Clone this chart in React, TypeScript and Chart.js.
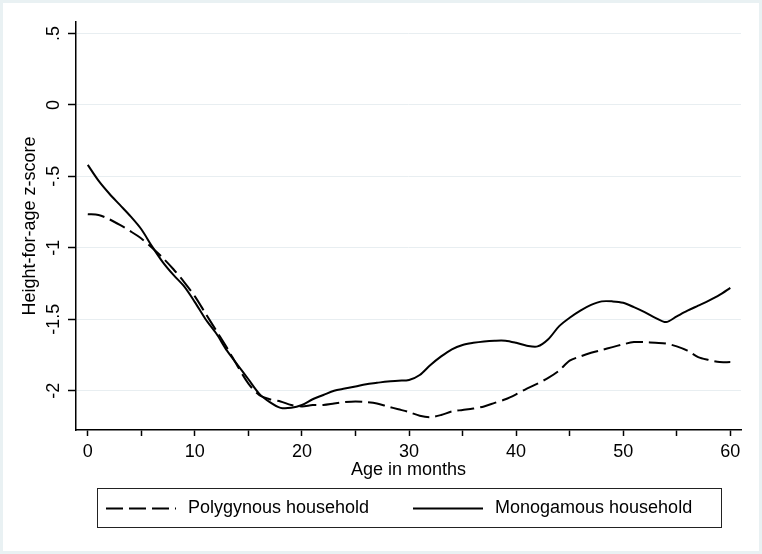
import React, { useEffect, useRef } from 'react';
import { Chart, registerables } from 'chart.js';

Chart.register(...registerables);

const ageMonths = [
  0, 1, 2, 3, 4, 5, 6, 7, 8, 9, 10, 11, 12, 13, 14, 15, 16, 17, 18, 19, 20,
  21, 22, 23, 24, 25, 26, 27, 28, 29, 30, 31, 32, 33, 34, 35, 36, 37, 38, 39, 40,
  41, 42, 43, 44, 45, 46, 47, 48, 49, 50, 51, 52, 53, 54, 55, 56, 57, 58, 59, 60,
];

const polygynous = [
  -0.765, -0.77, -0.8, -0.84, -0.885, -0.935, -1.0, -1.07, -1.15, -1.24, -1.34,
  -1.46, -1.58, -1.7, -1.83, -1.95, -2.03, -2.06, -2.075, -2.1, -2.11,
  -2.1, -2.1, -2.09, -2.08, -2.075, -2.08, -2.09, -2.11, -2.13, -2.15,
  -2.175, -2.185, -2.17, -2.145, -2.135, -2.125, -2.11, -2.085, -2.06, -2.025,
  -1.985, -1.95, -1.91, -1.86, -1.79, -1.76, -1.735, -1.715, -1.695, -1.675,
  -1.66, -1.66, -1.665, -1.67, -1.69, -1.72, -1.765, -1.785, -1.8, -1.8,
];

const monogamous = [
  -0.42, -0.53, -0.62, -0.7, -0.78, -0.87, -0.99, -1.1, -1.19, -1.27, -1.38,
  -1.5, -1.6, -1.72, -1.82, -1.92, -2.02, -2.08, -2.12, -2.12, -2.1,
  -2.06, -2.03, -2.0, -1.985, -1.97, -1.955, -1.945, -1.935, -1.93, -1.925,
  -1.89, -1.82, -1.76, -1.71, -1.68, -1.665, -1.655, -1.65, -1.65, -1.665,
  -1.685, -1.69, -1.64, -1.55, -1.49, -1.44, -1.4, -1.375, -1.375, -1.385,
  -1.415, -1.45, -1.49, -1.52, -1.48, -1.44, -1.405, -1.37, -1.33, -1.28,
];

const seriesLabels = ['Polygynous household', 'Monogamous household'];
const yTickValues = [-2, -1.5, -1, -0.5, 0, 0.5];
const xTickValues = [0, 5, 10, 15, 20, 25, 30, 35, 40, 45, 50, 55, 60];
const xAxisTitle = 'Age in months';
const yAxisTitle = 'Height-for-age z-score';

const FONT = '"Liberation Sans", Arial, sans-serif';

const framedLegend = {
  id: 'framedLegend',
  afterDraw(chart: any) {
    const { ctx, chartArea } = chart;
    const left = chartArea.left + 21;
    const right = chartArea.right - 20;
    const top = chartArea.bottom + 58;
    const height = 39;
    ctx.save();
    ctx.strokeStyle = '#222';
    ctx.lineWidth = 1;
    ctx.setLineDash([]);
    ctx.strokeRect(left + 0.5, top + 0.5, right - left, height);
    const datasets = chart.data.datasets;
    const colW = (right - left) / datasets.length - 5;
    const cy = top + height / 2 + 1;
    datasets.forEach((ds: any, i: number) => {
      const x0 = left + i * colW + 9;
      const sampleLen = 70;
      ctx.beginPath();
      ctx.strokeStyle = ds.borderColor;
      ctx.lineWidth = ds.borderWidth;
      ctx.setLineDash(ds.borderDash || []);
      ctx.moveTo(x0, cy);
      ctx.lineTo(x0 + sampleLen, cy);
      ctx.stroke();
      ctx.setLineDash([]);
      ctx.fillStyle = '#000';
      ctx.font = `18px ${FONT}`;
      ctx.textAlign = 'left';
      ctx.textBaseline = 'middle';
      ctx.fillText(ds.label, x0 + sampleLen + 12, cy);
    });
    ctx.restore();
  },
};

export default function App() {
  const canvasRef = useRef<HTMLCanvasElement | null>(null);

  useEffect(() => {
    document.body.style.margin = '0';
    const canvas = canvasRef.current;
    if (!canvas) return;
    const chart = new Chart(canvas, {
      type: 'line',
      data: {
        labels: ageMonths,
        datasets: [
          {
            label: seriesLabels[0],
            data: ageMonths.map((m, i) => ({ x: m, y: polygynous[i] })),
            borderColor: '#000',
            borderWidth: 2,
            borderDash: [17, 6],
            pointRadius: 0,
            tension: 0.3,
            fill: false,
          },
          {
            label: seriesLabels[1],
            data: ageMonths.map((m, i) => ({ x: m, y: monogamous[i] })),
            borderColor: '#000',
            borderWidth: 2,
            pointRadius: 0,
            tension: 0.3,
            fill: false,
          },
        ],
      },
      options: {
        responsive: false,
        animation: false,
        devicePixelRatio: 1,
        layout: { padding: { left: 0, top: 22, right: 21, bottom: 0 } },
        plugins: {
          legend: { display: false },
          tooltip: { enabled: false },
        },
        scales: {
          x: {
            type: 'linear',
            min: -1.1,
            max: 61,
            afterBuildTicks: (scale: any) => {
              scale.ticks = xTickValues.map((v) => ({ value: v }));
            },
            afterFit: (scale: any) => {
              scale.height = 124;
            },
            ticks: {
              autoSkip: false,
              maxRotation: 0,
              padding: 5,
              color: '#000',
              font: { family: FONT, size: 18 },
              callback: (v: any) => (Number(v) % 10 === 0 ? String(v) : ''),
            },
            grid: {
              drawOnChartArea: false,
              drawTicks: true,
              tickLength: 6,
              tickColor: '#000',
              tickWidth: 1.5,
            },
            border: { display: true, color: '#000', width: 1.5 },
            title: {
              display: true,
              text: xAxisTitle,
              color: '#000',
              font: { family: FONT, size: 18 },
              padding: { top: 0, bottom: 73 },
            },
          },
          y: {
            type: 'linear',
            min: -2.275,
            max: 0.58,
            afterBuildTicks: (scale: any) => {
              scale.ticks = yTickValues.map((v) => ({ value: v }));
            },
            afterFit: (scale: any) => {
              scale.width = 76;
            },
            ticks: {
              autoSkip: false,
              minRotation: 90,
              maxRotation: 90,
              crossAlign: 'center',
              padding: -2,
              color: '#000',
              font: { family: FONT, size: 18 },
              callback: (v: any) => String(v).replace('0.', '.'),
            },
            grid: {
              color: '#e8eef1',
              lineWidth: 1,
              drawTicks: true,
              tickLength: 8,
              tickColor: '#000',
              tickWidth: 1.5,
            },
            border: { display: true, color: '#000', width: 1.5 },
            title: {
              display: true,
              text: yAxisTitle,
              color: '#000',
              font: { family: FONT, size: 18 },
              padding: { top: 19, bottom: 0 },
            },
          },
        },
      },
      plugins: [framedLegend],
    } as any);
    return () => chart.destroy();
  }, []);

  return (
    <div style={{ position: 'absolute', left: 0, top: 0, width: 762, height: 554, background: '#fff' }}>
      <canvas ref={canvasRef} width={762} height={554} style={{ position: 'absolute', left: 0, top: 0 }} />
      <div
        style={{
          position: 'absolute',
          left: 0,
          top: 0,
          width: 762,
          height: 554,
          boxSizing: 'border-box',
          border: '3px solid #e9f1f3',
          pointerEvents: 'none',
        }}
      />
    </div>
  );
}
